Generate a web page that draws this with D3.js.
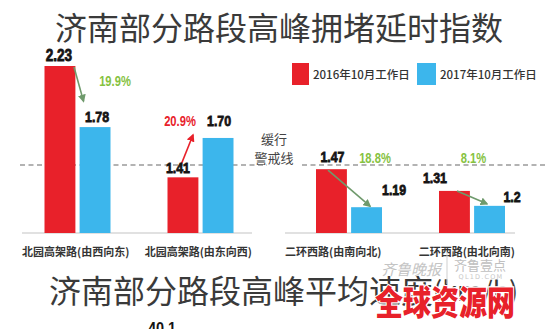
<!DOCTYPE html>
<html>
<head>
<meta charset="utf-8">
<script src="https://cdn.jsdelivr.net/npm/d3@7/dist/d3.min.js"></script>
<style>
  html, body { margin: 0; padding: 0; background: #fff; }
  svg { display: block; }
</style>
</head>
<body>
<svg id="chart" width="550" height="329"></svg>
<script>
// ---- data ----
const categories = ["北园高架路(由西向东)", "北园高架路(由东向西)", "二环西路(由南向北)", "二环西路(由北向南)"];
const seriesNames = ["2016年10月工作日", "2017年10月工作日"];
const index2016 = [2.23, 1.41, 1.47, 1.31];
const index2017 = [1.78, 1.70, 1.19, 1.2];
const labels2016 = ["2.23", "1.41", "1.47", "1.31"];
const labels2017 = ["1.78", "1.70", "1.19", "1.2"];
const changeLabels = ["19.9%", "20.9%", "18.8%", "8.1%"];
const changeUp = [false, true, false, false];
const panelOf = [0, 0, 1, 1];
const warningLevel = 1.5;
const warningText = ["缓行", "警戒线"];
const titleTop = "济南部分路段高峰拥堵延时指数";
const titleBottom = "济南部分路段高峰平均速度";
const titleBottomUnit = "(km/h)";
const speedPeek = ["40.1"];

// ---- styling ----
const RED = "#e8212a", BLUE = "#3cb6ec", GREEN = "#86c23f", ARROW = "#6f9a6c";
const CJK = "'Noto Sans CJK SC', 'Noto Sans', sans-serif";
const NUM = "'Liberation Sans', 'DejaVu Sans', sans-serif";

const svg = d3.select("#chart");

// condensed bold number text, squeezed horizontally around its anchor
function numText(x, yy, txt, size, fill, sx) {
  return svg.append("text")
    .attr("transform", `translate(${x},${yy}) scale(${sx},1)`)
    .attr("text-anchor", "middle").attr("font-family", NUM).attr("font-weight", 700)
    .attr("font-size", size).attr("fill", fill).text(txt);
}

// ---- scales ----
const y = d3.scaleLinear().domain([1, 2.23]).range([233, 66]);
const panelAxis = [[22, 252], [285, 515]];
const panelGroups = [[16, 262], [287.5, 533.5]];
const xPanel = panelGroups.map((r, p) =>
  d3.scaleBand().domain(categories.filter((c, i) => panelOf[i] === p)).range(r));
const xSeries = d3.scaleBand().domain([0, 1]).range([-33, 33]).paddingInner(0.12);
const center = i => { const s = xPanel[panelOf[i]]; return s(categories[i]) + s.bandwidth() / 2; };

const rows = categories.map((c, i) => ({
  i, c, cx: center(i), v: [index2016[i], index2017[i]], l: [labels2016[i], labels2017[i]]
}));

// ---- titles ----
svg.append("text").attr("x", 279).attr("y", 26).attr("text-anchor", "middle")
  .attr("dominant-baseline", "central").attr("font-family", CJK).attr("font-size", 32)
  .attr("fill", "#3a3a3a").text(titleTop);

// ---- legend ----
const legend = svg.append("g");
[[292, 17], [417, 19]].forEach(([lx, w], k) => {
  legend.append("rect").attr("x", lx).attr("y", 63).attr("width", w).attr("height", 22)
    .attr("fill", k === 0 ? RED : BLUE);
  legend.append("text").attr("x", lx + w + 4).attr("y", 74).attr("dominant-baseline", "central")
    .attr("font-family", CJK).attr("font-size", 11.5).attr("font-weight", 500)
    .attr("fill", "#333").text(seriesNames[k]);
});

// ---- warning line ----
const yw = y(warningLevel);
[[20, 267], [302, 547]].forEach(([a, b]) => {
  svg.append("line").attr("x1", a).attr("x2", b).attr("y1", yw).attr("y2", yw)
    .attr("stroke", "#9a9a9a").attr("stroke-width", 1.5).attr("stroke-dasharray", "5,3.5");
});
warningText.forEach((t, k) => {
  svg.append("text").attr("x", 274).attr("y", yw - 27 + k * 19).attr("text-anchor", "middle")
    .attr("dominant-baseline", "central").attr("font-family", CJK).attr("font-size", 13)
    .attr("fill", "#444").text(t);
});

// ---- baselines + category labels ----
panelAxis.forEach(([a, b]) => {
  svg.append("line").attr("x1", a).attr("x2", b).attr("y1", y(1)).attr("y2", y(1))
    .attr("stroke", "#c4c4c4").attr("stroke-width", 1.2);
});
rows.forEach(r => {
  const [a, b] = panelAxis[panelOf[r.i]];
  const first = r.i % 2 === 0;
  svg.append("text").attr("x", first ? a : b).attr("y", 256)
    .attr("text-anchor", first ? "start" : "end")
    .attr("font-family", CJK).attr("font-size", 11).attr("font-weight", 700)
    .attr("fill", "#353535").text(r.c);
});

// ---- bars ----
const groups = svg.selectAll("g.grp").data(rows).join("g").attr("class", "grp");
groups.selectAll("rect").data(r => r.v.map((v, k) => ({ v, k, cx: r.cx }))).join("rect")
  .attr("x", d => d.cx + xSeries(d.k))
  .attr("width", xSeries.bandwidth())
  .attr("y", d => y(d.v))
  .attr("height", d => y(1) - y(d.v))
  .attr("fill", d => d.k === 0 ? RED : BLUE);

// ---- change arrows ----
const defs = svg.append("defs");
[["ah-g", ARROW], ["ah-r", RED]].forEach(([id, col]) => {
  defs.append("marker").attr("id", id).attr("viewBox", "0 0 10 10").attr("refX", 8).attr("refY", 5)
    .attr("markerWidth", 5).attr("markerHeight", 5).attr("orient", "auto")
    .append("path").attr("d", "M0,0L10,5L0,10Z").attr("fill", col);
});
// arrow endpoints: [dx0, dy0 from 2016 top, dx1, dy1 from 2017 top]
const arrowLayout = [[-3.5, 1, 6, -26], [-20.5, -10, -7.5, -3], [-21, 1, 21, -1], [-15, 0, 15, -2]];
rows.forEach(r => {
  const [dx0, dy0, dx1, dy1] = arrowLayout[r.i];
  svg.append("line")
    .attr("x1", r.cx + dx0).attr("y1", y(r.v[0]) + dy0)
    .attr("x2", r.cx + dx1).attr("y2", y(r.v[1]) + dy1)
    .attr("stroke", changeUp[r.i] ? RED : ARROW).attr("stroke-width", 1.6)
    .attr("marker-end", changeUp[r.i] ? "url(#ah-r)" : "url(#ah-g)");
});

// ---- value labels ----
// [dx, dy] relative to each bar's centre and top
const valueLayout2016 = [[-1, -5], [-5, -4], [1, -7], [-19.5, -8]];
const valueLayout2017 = [[2, -5], [1, -12], [27.5, -12], [22.5, -4]];
rows.forEach(r => {
  [valueLayout2016, valueLayout2017].forEach((lay, k) => {
    const bx = r.cx + xSeries(k) + xSeries.bandwidth() / 2;
    numText(bx + lay[r.i][0], y(r.v[k]) + lay[r.i][1], r.l[k],
      r.i === 0 && k === 0 ? 17 : 15.5, "#141414", 0.8)
      .attr("stroke", "#141414").attr("stroke-width", 0.8);
  });
});

// ---- change labels ----
const changeLayout = [[37.5, 86], [-20.5, 126], [26, 163], [1.5, 163]];
rows.forEach(r => {
  const [dx, by] = changeLayout[r.i];
  numText(r.cx + dx, by, changeLabels[r.i], 14, changeUp[r.i] ? RED : GREEN, 0.8);
});

// ---- second chart heading (partially visible) ----
const t2 = svg.append("text").attr("x", 49).attr("y", 289).attr("dominant-baseline", "central")
  .attr("font-family", CJK).attr("font-size", 32).attr("fill", "#3a3a3a");
t2.append("tspan").text(titleBottom);
t2.append("tspan").attr("font-size", 27).text(titleBottomUnit);
numText(162, 334, speedPeek[0], 17, "#141414", 0.85);

// ---- source marks ----
svg.append("text").attr("x", 411).attr("y", 268).attr("text-anchor", "middle")
  .attr("dominant-baseline", "central").attr("font-family", CJK).attr("font-size", 15)
  .attr("font-style", "italic").attr("fill", "#c4c4c4").text("齐鲁晚报");
svg.append("line").attr("x1", 447).attr("x2", 447).attr("y1", 252).attr("y2", 284)
  .attr("stroke", "#cfcfcf").attr("stroke-width", 1);
svg.append("text").attr("x", 480).attr("y", 264).attr("text-anchor", "middle")
  .attr("dominant-baseline", "central").attr("font-family", CJK).attr("font-size", 13)
  .attr("fill", "#c0c0c0").text("齐鲁壹点");
svg.append("text").attr("x", 481).attr("y", 277).attr("text-anchor", "middle")
  .attr("dominant-baseline", "central").attr("font-family", "'DejaVu Sans', sans-serif")
  .attr("font-size", 6.5).attr("letter-spacing", 1.2).attr("fill", "#c8c8c8").text("QL1D.COM");
svg.append("text").attr("x", 445).attr("y", 300).attr("text-anchor", "middle")
  .attr("dominant-baseline", "central").attr("font-family", CJK).attr("font-size", 28)
  .attr("font-weight", 900).attr("fill", RED).attr("stroke", "#fff").attr("stroke-width", 2)
  .attr("paint-order", "stroke").attr("transform", "translate(445,300) scale(1,1.2) translate(-445,-300)")
  .text("全球资源网");
</script>
</body>
</html>
